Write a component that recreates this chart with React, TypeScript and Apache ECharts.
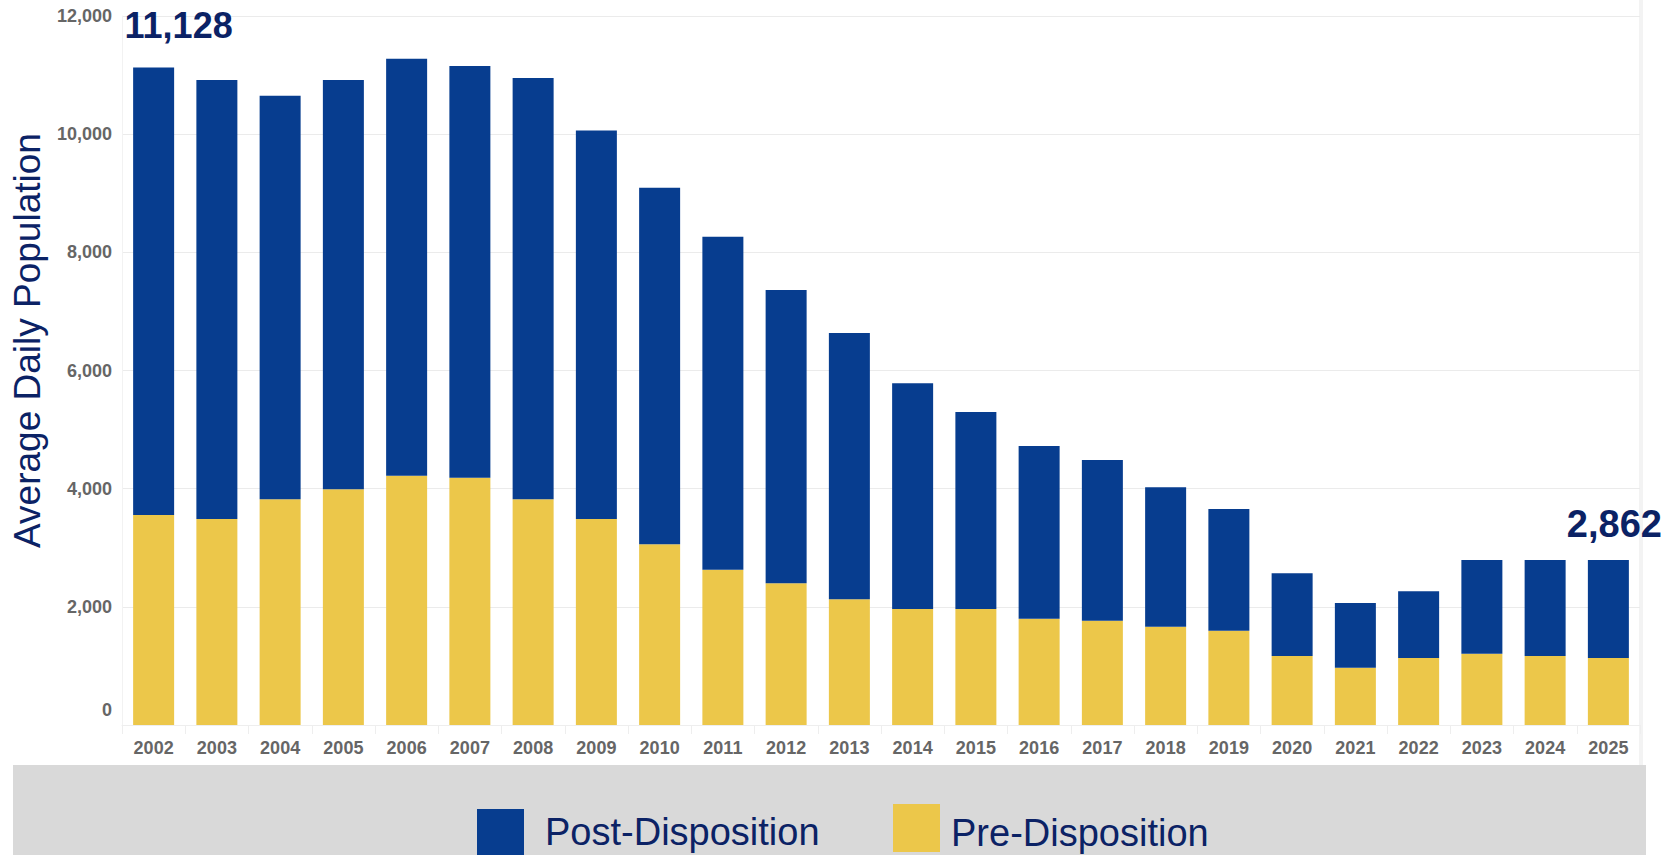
import React, { useEffect, useRef } from "react";
import * as echarts from "echarts";

const years = [
  "2002", "2003", "2004", "2005", "2006", "2007", "2008", "2009", "2010", "2011", "2012", "2013",
  "2014", "2015", "2016", "2017", "2018", "2019", "2020", "2021", "2022", "2023", "2024", "2025",
];

const preDisposition = [
  3554, 3487, 3820, 3989, 4220, 4186, 3820, 3487, 3058, 2629, 2398, 2127,
  1963, 1963, 1800, 1766, 1664, 1596, 1168, 970, 1134, 1207, 1168, 1134,
];

const postDisposition = [
  7574, 7430, 6832, 6928, 7058, 6968, 7131, 6573, 6036, 5636, 4965, 4508,
  3820, 3335, 2922, 2719, 2359, 2060, 1399, 1095, 1129, 1586, 1625, 1659,
];

const yMax = 12000;
const yInterval = 2000;

const annotationYears = ["2002", "2025"];
const annotationTexts = ["11,128", "2,862"];

const BLUE = "#073d8f";
const YELLOW = "#ecc74a";
const NAVY = "#0b2265";
const GRAY_TEXT = "#666666";
const SANS = "'Liberation Sans', Arial, sans-serif";

export default function App() {
  const ref = useRef<HTMLDivElement>(null);

  useEffect(() => {
    if (!ref.current) return;
    const chart = echarts.init(ref.current, undefined, { renderer: "svg" });

    const annotationStyle = [
      { offset: [25, -24], fontSize: 36 },
      { offset: [6, -17], fontSize: 38 },
    ];

    const postData = postDisposition.map((v, i) => {
      const k = annotationYears.indexOf(years[i]);
      if (k < 0) return v;
      return {
        value: v,
        label: {
          show: true,
          position: "top",
          distance: 0,
          formatter: annotationTexts[k],
          offset: annotationStyle[k].offset,
          fontSize: annotationStyle[k].fontSize,
          fontWeight: "bold",
          fontFamily: SANS,
          color: NAVY,
        },
      };
    });

    const axisLabelStyle = {
      fontSize: 18,
      fontWeight: "bold",
      fontFamily: SANS,
      color: GRAY_TEXT,
    };

    const legendText = { fontSize: 38, color: NAVY, fontFamily: SANS };

    chart.setOption({
      animation: false,
      backgroundColor: "#ffffff",
      grid: { left: 122, right: 39, top: 16, bottom: 130, containLabel: false },
      graphic: [
        { type: "rect", z: 0, shape: { x: 13, y: 765, width: 1633, height: 90 }, style: { fill: "#d9d9d9" } },
        { type: "rect", z: 0, shape: { x: 1639, y: 0, width: 4, height: 765 }, style: { fill: "#f3f3f3" } },
      ],
      legend: [
        {
          data: ["Post-Disposition"],
          left: 477,
          top: 809,
          padding: 0,
          icon: "rect",
          itemWidth: 47,
          itemHeight: 46,
          selectedMode: false,
          formatter: "{a|{name}}",
          textStyle: { ...legendText, rich: { a: { ...legendText, padding: [0, 0, 0, 16] } } },
        },
        {
          data: ["Pre-Disposition"],
          left: 893,
          top: 804,
          padding: 0,
          icon: "rect",
          itemWidth: 47,
          itemHeight: 48,
          selectedMode: false,
          formatter: "{a|{name}}",
          textStyle: { ...legendText, rich: { a: { ...legendText, padding: [10, 0, 0, 6] } } },
        },
      ],
      xAxis: {
        type: "category",
        data: years,
        axisLine: { show: true, lineStyle: { color: "#eeeeee", width: 1 } },
        axisTick: { show: true, length: 9, lineStyle: { color: "#eeeeee" } },
        axisLabel: { ...axisLabelStyle, margin: 14 },
      },
      yAxis: {
        type: "value",
        min: 0,
        max: yMax,
        interval: yInterval,
        name: "Average Daily Population",
        nameLocation: "middle",
        nameGap: 74,
        nameTextStyle: { fontSize: 37, color: NAVY, fontFamily: SANS, padding: [0, 0, 0, 60] },
        axisLine: { show: true, lineStyle: { color: "#f2f2f2" } },
        axisTick: { show: false },
        splitLine: { lineStyle: { color: "#ebebeb", width: 1 } },
        axisLabel: {
          ...axisLabelStyle,
          margin: 10,
          formatter: (v: number) => (v === 0 ? "{z|0}" : v.toLocaleString("en-US")),
          rich: { z: { ...axisLabelStyle, padding: [0, 0, 30, 0] } },
        },
      },
      series: [
        {
          name: "Pre-Disposition",
          type: "bar",
          stack: "total",
          barWidth: 41,
          itemStyle: { color: YELLOW },
          data: preDisposition,
        },
        {
          name: "Post-Disposition",
          type: "bar",
          stack: "total",
          barWidth: 41,
          itemStyle: { color: BLUE },
          data: postData,
        },
      ],
    });

    return () => chart.dispose();
  }, []);

  return (
    <div
      ref={ref}
      style={{ position: "absolute", left: 0, top: 0, width: 1679, height: 855 }}
    />
  );
}
